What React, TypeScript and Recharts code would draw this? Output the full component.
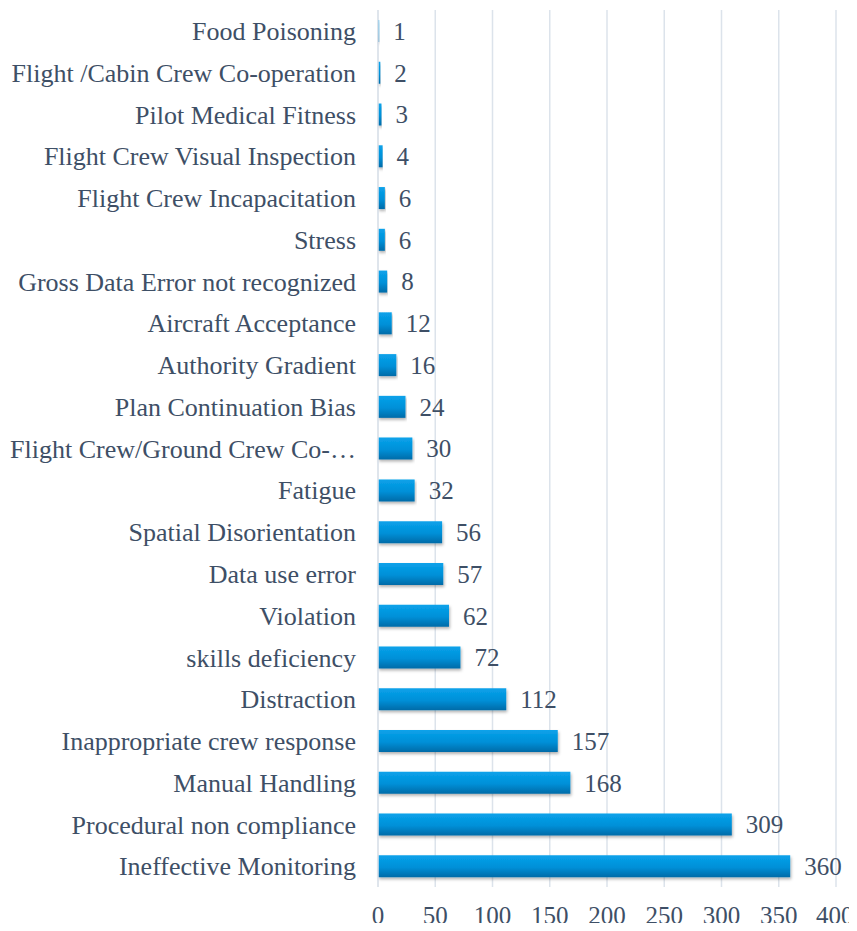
import { Bar, BarChart, CartesianGrid, LabelList, XAxis, YAxis } from "recharts";

const categories = [
  "Food Poisoning",
  "Flight /Cabin Crew Co-operation",
  "Pilot Medical Fitness",
  "Flight Crew Visual Inspection",
  "Flight Crew Incapacitation",
  "Stress",
  "Gross Data Error not recognized",
  "Aircraft Acceptance",
  "Authority Gradient",
  "Plan Continuation Bias",
  "Flight Crew/Ground Crew Co-…",
  "Fatigue",
  "Spatial Disorientation",
  "Data use error",
  "Violation",
  "skills deficiency",
  "Distraction",
  "Inappropriate crew response",
  "Manual Handling",
  "Procedural non compliance",
  "Ineffective Monitoring",
];

const counts = [1, 2, 3, 4, 6, 6, 8, 12, 16, 24, 30, 32, 56, 57, 62, 72, 112, 157, 168, 309, 360];

const xTicks = [0, 50, 100, 150, 200, 250, 300, 350, 400];

const data = categories.map((name, i) => ({ name, value: counts[i] }));

const TEXT = "#3E4F66";
const font = "'Liberation Serif', 'Times New Roman', serif";
const CHART_W = 849;

// centred value tick, pulled inward if it would run past the right edge
function ValueTick(props: any) {
  const { x, y, payload } = props;
  const halfW = String(payload.value).length * 6.4;
  const cx = Math.min(x, CHART_W - 3 - halfW);
  return (
    <text x={cx} y={y} dy="0.71em" textAnchor="middle" fill={TEXT} fontSize={25} fontFamily={font}>
      {payload.value}
    </text>
  );
}

export default function App() {
  // outer box keeps the page at 931px; the chart reaches into the body's bottom margin
  return (
    <div style={{ width: CHART_W, height: 915 }}>
      <BarChart
        width={CHART_W}
        height={923}
        data={data}
        layout="vertical"
        margin={{ top: 2, right: 21, bottom: 0, left: 0 }}
        barCategoryGap={10}
        style={{ fontFamily: font }}
      >
        <defs>
          <linearGradient id="barFill" x1="0" y1="0" x2="0" y2="1">
            <stop offset="0%" stopColor="#0AA2EA" />
            <stop offset="55%" stopColor="#0090D8" />
            <stop offset="100%" stopColor="#006BA8" />
          </linearGradient>
          <filter id="barShadow" x="-5%" y="-20%" width="110%" height="160%">
            <feDropShadow dx="1" dy="2" stdDeviation="1.5" floodColor="#000" floodOpacity="0.3" />
          </filter>
        </defs>
        <CartesianGrid horizontal={false} stroke="#DCE3EB" strokeWidth={1.5} />
        <XAxis
          type="number"
          domain={[0, 400]}
          ticks={xTicks}
          axisLine={false}
          tickLine={false}
          tickSize={0}
          tickMargin={19}
          height={44}
          tick={<ValueTick />}
        />
        <YAxis
          type="category"
          dataKey="name"
          width={370}
          interval={0}
          axisLine={{ stroke: "#DCE3EB", strokeWidth: 1.5 }}
          tickLine={false}
          tickSize={0}
          tickMargin={22}
          tick={{ fill: TEXT, fontSize: 26, fontFamily: font }}
        />
        <Bar
          dataKey="value"
          fill="url(#barFill)"
          isAnimationActive={false}
          style={{ filter: "url(#barShadow)" }}
        >
          <LabelList
            dataKey="value"
            position="right"
            offset={14}
            fill={TEXT}
            fontSize={25}
            fontFamily={font}
          />
        </Bar>
      </BarChart>
    </div>
  );
}
